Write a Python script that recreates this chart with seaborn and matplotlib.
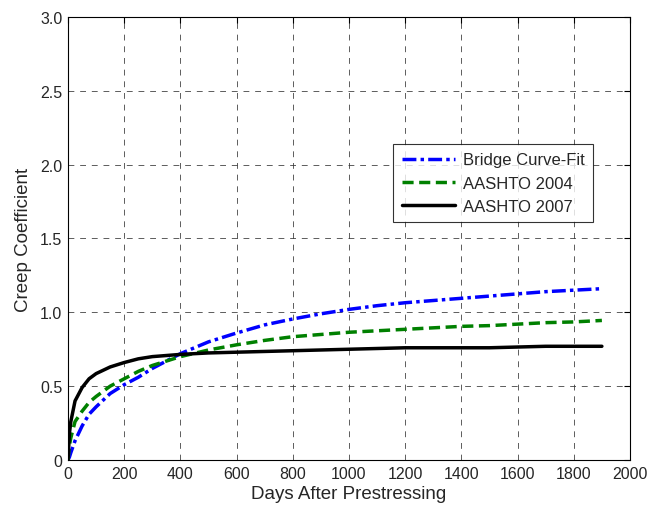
import numpy as np
import pandas as pd
import seaborn as sns
import matplotlib.pyplot as plt
from matplotlib.ticker import FixedLocator, FixedFormatter

# values
days = [0, 5, 10, 25, 50, 75, 100, 150, 200, 250, 300, 400, 500, 600, 700, 800, 900,
        1000, 1100, 1200, 1300, 1400, 1500, 1600, 1700, 1800, 1900]
bridge_fit = [0, 0.02, 0.05, 0.13, 0.23, 0.31, 0.36, 0.45, 0.51, 0.56, 0.62, 0.72, 0.80,
              0.86, 0.915, 0.955, 0.99, 1.02, 1.045, 1.065, 1.08, 1.095, 1.11, 1.125,
              1.14, 1.15, 1.16]
aashto_2004 = [0, 0.10, 0.15, 0.26, 0.33, 0.39, 0.43, 0.50, 0.55, 0.60, 0.64, 0.70, 0.745,
               0.78, 0.81, 0.835, 0.85, 0.865, 0.875, 0.885, 0.895, 0.905, 0.91, 0.92,
               0.93, 0.935, 0.945]
aashto_2007 = [0, 0.18, 0.26, 0.40, 0.49, 0.55, 0.585, 0.63, 0.66, 0.685, 0.70, 0.715,
               0.725, 0.73, 0.735, 0.74, 0.745, 0.75, 0.755, 0.76, 0.76, 0.76, 0.76,
               0.765, 0.77, 0.77, 0.77]
series_names = ['Bridge Curve-Fit', 'AASHTO 2004', 'AASHTO 2007']

df = pd.DataFrame({
    'Days': days * 3,
    'Creep': bridge_fit + aashto_2004 + aashto_2007,
    'Series': sum([[n] * len(days) for n in series_names], []),
})

sns.set_style('white')
plt.rcParams['font.family'] = ['Liberation Sans', 'DejaVu Sans']

fig = plt.figure(figsize=(6.49, 5.10), dpi=100)
ax = fig.add_axes([0.1048, 0.0961, 0.8659, 0.8686])

palette = {'Bridge Curve-Fit': '#0000ff', 'AASHTO 2004': '#008000', 'AASHTO 2007': 'black'}
sns.lineplot(data=df, x='Days', y='Creep', hue='Series', style='Series',
             palette=palette, dashes={'Bridge Curve-Fit': (4, 1.2, 1, 1.2),
                                      'AASHTO 2004': (3.2, 1.6),
                                      'AASHTO 2007': ''},
             linewidth=2.5, ax=ax, legend=True)

ax.set_xlim(0, 2000)
ax.set_ylim(0, 3.0)
ax.xaxis.set_major_locator(FixedLocator(np.arange(0, 2001, 200)))
yt = np.arange(0, 3.01, 0.5)
ax.yaxis.set_major_locator(FixedLocator(yt))
ax.yaxis.set_major_formatter(FixedFormatter(['0'] + [f'{v:.1f}' for v in yt[1:]]))
ax.tick_params(direction='in', top=True, right=True, length=4, width=0.8,
               labelsize=11.5, color='black', pad=4)
ax.grid(True, color='#333333', linestyle=(0, (6, 6)), linewidth=0.7, alpha=0.8)
for s in ax.spines.values():
    s.set_color('black')
    s.set_linewidth(0.8)

ax.set_xlabel('Days After Prestressing', fontsize=13.5, labelpad=3)
ax.set_ylabel('Creep Coefficient', fontsize=13.5, labelpad=6)

leg = ax.legend(loc='upper left', bbox_to_anchor=(0.579, 0.713), borderaxespad=0,
                fontsize=12, frameon=True, fancybox=False, handlelength=3.2,
                handletextpad=0.5, labelspacing=0.5, borderpad=0.5)
leg.get_frame().set_edgecolor('black')
leg.get_frame().set_linewidth(0.8)

fig.savefig('out.png', dpi=100)
